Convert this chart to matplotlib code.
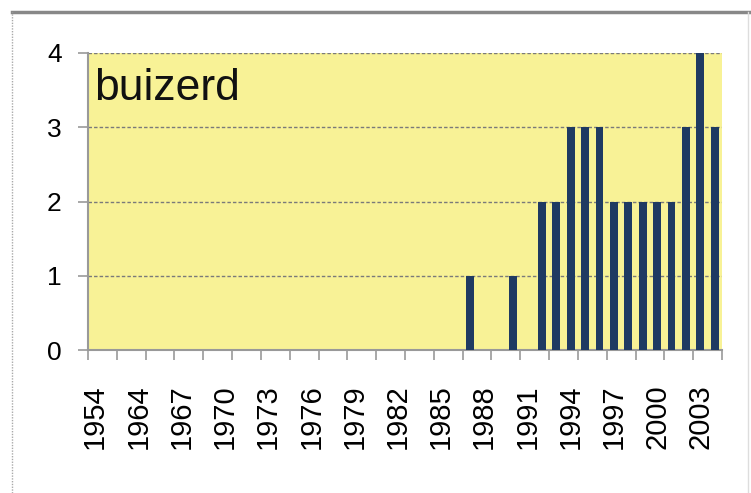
import matplotlib
matplotlib.use("Agg")
import matplotlib.pyplot as plt
from matplotlib.lines import Line2D

years = [1954, 1962, 1963, 1964, 1965, 1966, 1967, 1968, 1969, 1970,
         1971, 1972, 1973, 1974, 1975, 1976, 1977, 1978, 1979, 1980,
         1981, 1982, 1983, 1984, 1985, 1986, 1987, 1988, 1989, 1990,
         1991, 1992, 1993, 1994, 1995, 1996, 1997, 1998, 1999, 2000,
         2001, 2002, 2003, 2004]
counts = [0, 0, 0, 0, 0, 0, 0, 0, 0, 0,
          0, 0, 0, 0, 0, 0, 0, 0, 0, 0,
          0, 0, 0, 0, 0, 0, 1, 0, 0, 1,
          0, 2, 2, 3, 3, 3, 2, 2, 2, 2,
          2, 3, 4, 3]
yticks = [0, 1, 2, 3, 4]
title = "buizerd"

plt.rcParams['font.family'] = ['Liberation Sans', 'DejaVu Sans']

W, H = 751, 493
fig = plt.figure(figsize=(W / 100, H / 100), dpi=100)
fig.patch.set_facecolor('white')

L, R, T, B = 88, 722, 53, 350
ax = fig.add_axes([L / W, 1 - B / H, (R - L) / W, (B - T) / H])
ax.set_facecolor('#F8F296')

n = len(years)
x = list(range(n))
ax.bar(x, counts, width=0.54, color='#1F3A62', zorder=3)

ax.set_xlim(-0.5, n - 0.5)
ax.set_ylim(0, 4)

# gridlines
ax.set_yticks(yticks)
ax.yaxis.grid(True, linestyle=(0, (2.5, 1.5)), color='#7a7a7a', linewidth=1.0, zorder=1)
ax.set_axisbelow(True)

# ticks: marks every 2 categories at boundaries; labels every 3 categories
ax.set_xticks([k - 0.5 for k in range(0, n + 1, 2)])
ax.set_xticklabels([])
lab_pos = list(range(0, n, 3))
ax.set_xticks(lab_pos, minor=True)
ax.set_xticklabels([str(years[i]) for i in lab_pos], minor=True, rotation=90,
                   fontsize=21, va='top', ha='center')
ax.tick_params(axis='x', which='major', length=7, width=1.2, color='#999999', direction='out')
ax.tick_params(axis='x', which='minor', length=0, pad=25)
ax.tick_params(axis='y', length=7, width=1.2, color='#999999', pad=12, labelsize=19)

for s in ['top', 'right']:
    ax.spines[s].set_visible(False)
for s in ['left', 'bottom']:
    ax.spines[s].set_color('#999999')
    ax.spines[s].set_linewidth(1.5)

ax.text(6 / (R - L), (B - 100) / (B - T), title, transform=ax.transAxes,
        fontsize=32, va='baseline', ha='left', color='#111111')

# outer frame
fig.add_artist(Line2D([12 / W, 1.0], [1 - 11.5 / H, 1 - 11.5 / H], color='#888888', linewidth=2.5))
fig.add_artist(Line2D([12 / W, 12 / W], [0, 1 - 11.5 / H], color='#aaaaaa', linewidth=1.0, linestyle=(0, (1, 1))))
fig.add_artist(Line2D([748 / W, 748 / W], [0, 1 - 11.5 / H], color='#dddddd', linewidth=1.0))

fig.savefig('out.png', dpi=100)
